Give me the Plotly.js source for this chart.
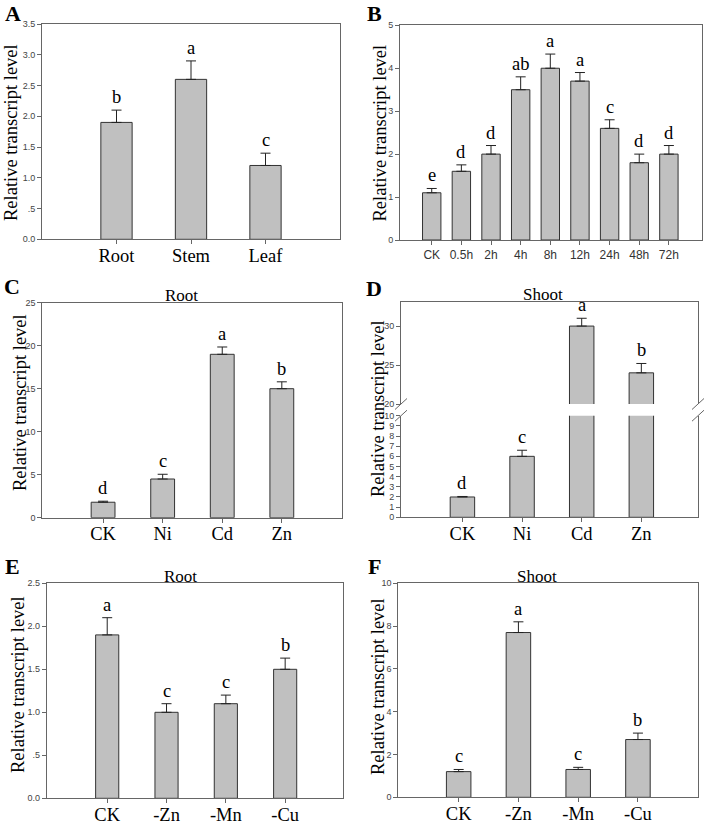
<!DOCTYPE html>
<html><head><meta charset="utf-8">
<script src="https://cdn.plot.ly/plotly-3.0.1.min.js"></script>
<style>html,body{margin:0;padding:0;background:#fff}#chart{width:709px;height:825px}</style>
</head><body><div id="chart"></div>
<script>
// ---------- data ----------
const catsA = ['Root', 'Stem', 'Leaf'];
const valsA = [1.9, 2.6, 1.2];
const errA  = [0.2, 0.3, 0.2];
const letA  = ['b', 'a', 'c'];
const yTickValsA = [0, 0.5, 1, 1.5, 2, 2.5, 3, 3.5];
const yTickTextA = ['0.0', '.5', '1.0', '1.5', '2.0', '2.5', '3.0', '3.5'];

const catsB = ['CK', '0.5h', '2h', '4h', '8h', '12h', '24h', '48h', '72h'];
const valsB = [1.1, 1.6, 2.0, 3.5, 4.0, 3.7, 2.6, 1.8, 2.0];
const errB  = [0.1, 0.15, 0.2, 0.3, 0.33, 0.2, 0.2, 0.2, 0.2];
const letB  = ['e', 'd', 'd', 'ab', 'a', 'a', 'c', 'd', 'd'];
const yTickValsB = [0, 1, 2, 3, 4, 5];
const yTickTextB = ['0', '1', '2', '3', '4', '5'];

const catsC = ['CK', 'Ni', 'Cd', 'Zn'];
const valsC = [1.8, 4.5, 19, 15];
const errC  = [0.12, 0.55, 0.85, 0.8];
const letC  = ['d', 'c', 'a', 'b'];
const yTickValsC = [0, 5, 10, 15, 20, 25];
const yTickTextC = ['0', '5', '10', '15', '20', '25'];

const catsD = ['CK', 'Ni', 'Cd', 'Zn'];
const valsD = [2.0, 6.0, 30, 24];
const errD  = [0.05, 0.6, 1.0, 1.2];
const letD  = ['d', 'c', 'a', 'b'];
const yTickValsDlow = [0, 1, 2, 3, 4, 5, 6, 7, 8, 9, 10];
const yTickTextDlow = ['0', '1', '2', '3', '4', '5', '6', '7', '8', '9', '10'];
const yTickValsDup = [20, 25, 30];
const yTickTextDup = ['20', '25', '30'];

const catsE = ['CK', '-Zn', '-Mn', '-Cu'];
const valsE = [1.9, 1.0, 1.1, 1.5];
const errE  = [0.2, 0.1, 0.1, 0.13];
const letE  = ['a', 'c', 'c', 'b'];
const yTickValsE = [0, 0.5, 1, 1.5, 2, 2.5];
const yTickTextE = ['0.0', '.5', '1.0', '1.5', '2.0', '2.5'];

const catsF = ['CK', '-Zn', '-Mn', '-Cu'];
const valsF = [1.2, 7.7, 1.3, 2.7];
const errF  = [0.1, 0.5, 0.1, 0.3];
const letF  = ['c', 'a', 'c', 'b'];
const yTickValsF = [0, 2, 4, 6, 8, 10];
const yTickTextF = ['0', '2', '4', '6', '8', '10'];

const yTitle = 'Relative transcript level';
const panelLetters = ['A', 'B', 'C', 'D', 'E', 'F'];
const subTitles = ['Root', 'Shoot', 'Root', 'Shoot'];

// ---------- styling / geometry ----------
const W = 709, H = 825;
const fx = p => p / W, fy = p => 1 - p / H;
const SERIF = 'Liberation Serif, Times New Roman, serif';
const SANS = 'Liberation Sans, Arial, sans-serif';
const AXC = '#666';
const serifTick = {family: SERIF, size: 18.5, color: '#000'};
const sansTick = {family: SANS, size: 12, color: '#333'};

function yAxis(top, bot, range, tv, tt, anchor) {
  return {domain: [fy(bot), fy(top)], range: range, tickvals: tv, ticktext: tt, anchor: anchor,
    showline: true, mirror: true, linecolor: AXC, linewidth: 1, ticks: 'outside', ticklen: 4,
    tickcolor: AXC, tickfont: {family: SANS, size: 9, color: '#444'}, showgrid: false,
    zeroline: false, fixedrange: true};
}
function xAxis(l, r, range, anchor, font, mirror, standoff) {
  return {domain: [fx(l), fx(r)], range: range, type: 'category', anchor: anchor,
    showline: true, mirror: mirror, linecolor: AXC, linewidth: 1, ticks: 'outside', ticklen: 4,
    tickcolor: AXC, tickfont: font, ticklabelstandoff: standoff, showgrid: false,
    zeroline: false, fixedrange: true};
}
function barTrace(cats, vals, errs, xa, ya, w) {
  return {type: 'bar', x: cats, y: vals, xaxis: xa, yaxis: ya, width: w,
    marker: {color: '#c0c0c0', line: {color: '#333', width: 1}},
    error_y: {type: 'data', symmetric: false, array: errs, arrayminus: errs.map(() => 0),
      color: '#222', thickness: 1, width: 5},
    hoverinfo: 'skip', showlegend: false};
}
const annotations = [];
function letters(cats, vals, errs, lets, xa, ya) {
  cats.forEach((c, i) => annotations.push({x: c, y: vals[i] + errs[i], xref: xa, yref: ya,
    text: lets[i], showarrow: false, yanchor: 'bottom', yshift: 1,
    font: {family: SERIF, size: 18.5, color: '#000'}}));
}

const traces = [
  barTrace(catsA, valsA, errA, 'x', 'y', 0.42),
  barTrace(catsB, valsB, errB, 'x2', 'y2', 0.62),
  barTrace(catsC, valsC, errC, 'x3', 'y3', 0.40),
  barTrace(catsD, valsD, errD, 'x4', 'y4', 0.41),
  barTrace(catsD, valsD, errD, 'x7', 'y7', 0.41),
  barTrace(catsE, valsE, errE, 'x5', 'y5', 0.39),
  barTrace(catsF, valsF, errF, 'x6', 'y6', 0.41)
];

letters(catsA, valsA, errA, letA, 'x', 'y');
letters(catsB, valsB, errB, letB, 'x2', 'y2');
letters(catsC, valsC, errC, letC, 'x3', 'y3');
const dLowMax = yTickValsDlow[yTickValsDlow.length - 1];
catsD.forEach((c, i) => {
  const up = valsD[i] + errD[i] > dLowMax;
  letters([c], [valsD[i]], [errD[i]], [letD[i]], up ? 'x7' : 'x4', up ? 'y7' : 'y4');
});
letters(catsE, valsE, errE, letE, 'x5', 'y5');
letters(catsF, valsF, errF, letF, 'x6', 'y6');

// panel letters
const letterPos = [[12.5, 14], [375, 13.5], [12, 286], [374, 288], [12, 566.5], [374.5, 566.5]];
panelLetters.forEach((t, i) => annotations.push({x: fx(letterPos[i][0]), y: fy(letterPos[i][1]),
  xref: 'paper', yref: 'paper', text: '<b>' + t + '</b>', showarrow: false, xanchor: 'center',
  yanchor: 'middle', font: {family: SERIF, size: 22, color: '#000'}}));

// y titles
const yTitlePos = [[11, 133], [379, 132.5], [20, 403], [378, 408], [18, 685], [378, 686]];
yTitlePos.forEach(p => annotations.push({x: fx(p[0]), y: fy(p[1]), xref: 'paper', yref: 'paper',
  text: yTitle, textangle: -90, showarrow: false, xanchor: 'center', yanchor: 'middle',
  font: {family: SERIF, size: 18.5, color: '#000'}}));

// subplot titles
const subPos = [[181.5, 295], [543, 294.5], [180, 576.5], [536.5, 576]];
subTitles.forEach((t, i) => annotations.push({x: fx(subPos[i][0]), y: fy(subPos[i][1]),
  xref: 'paper', yref: 'paper', text: t, showarrow: false, xanchor: 'center', yanchor: 'middle',
  font: {family: SERIF, size: 17, color: '#000'}}));

// axis-break marks for panel D
const shapes = [];
[[401, 404], [401, 415.7], [698, 404], [698, 415.7]].forEach(p => shapes.push({type: 'line',
  xref: 'paper', yref: 'paper', x0: fx(p[0] - 6), y0: fy(p[1] + 5.5), x1: fx(p[0] + 6), y1: fy(p[1] - 5.5),
  line: {color: AXC, width: 1}}));

const layout = {
  width: W, height: H, margin: {l: 0, r: 0, t: 0, b: 0}, paper_bgcolor: '#fff', plot_bgcolor: '#fff',
  showlegend: false, hovermode: false, annotations: annotations, shapes: shapes,
  xaxis:  xAxis(42, 340, [-1, 3], 'y', serifTick, true, -5),
  yaxis:  yAxis(24, 239.3, [0, 3.5], yTickValsA, yTickTextA, 'x'),
  xaxis2: xAxis(400, 701.5, [-1.07, 9.1], 'y2', sansTick, true, 0),
  yaxis2: yAxis(25.3, 240, [0, 5], yTickValsB, yTickTextB, 'x2'),
  xaxis3: xAxis(42.3, 342, [-1.02, 4.01], 'y3', serifTick, true, -5),
  yaxis3: yAxis(302.7, 517.7, [0, 25], yTickValsC, yTickTextC, 'x3'),
  xaxis4: xAxis(401, 698, [-1.03, 3.95], 'y4', serifTick, false, -5),
  yaxis4: yAxis(415.7, 517.3, [0, 10], yTickValsDlow, yTickTextDlow, 'x4'),
  xaxis7: Object.assign(xAxis(401, 698, [-1.03, 3.95], 'y7', serifTick, false, 0),
    {side: 'top', ticks: '', showticklabels: false}),
  yaxis7: yAxis(302.3, 404, [20, 33.05], yTickValsDup, yTickTextDup, 'x7'),
  xaxis5: xAxis(46.7, 343.3, [-1.02, 3.98], 'y5', serifTick, true, -5),
  yaxis5: yAxis(583.3, 798.3, [0, 2.5], yTickValsE, yTickTextE, 'x5'),
  xaxis6: xAxis(398.3, 698.3, [-1.01, 4.01], 'y6', serifTick, true, -5),
  yaxis6: yAxis(583.3, 797.3, [0, 10], yTickValsF, yTickTextF, 'x6')
};

Plotly.newPlot('chart', traces, layout, {staticPlot: true, displayModeBar: false});
</script>
</body></html>
